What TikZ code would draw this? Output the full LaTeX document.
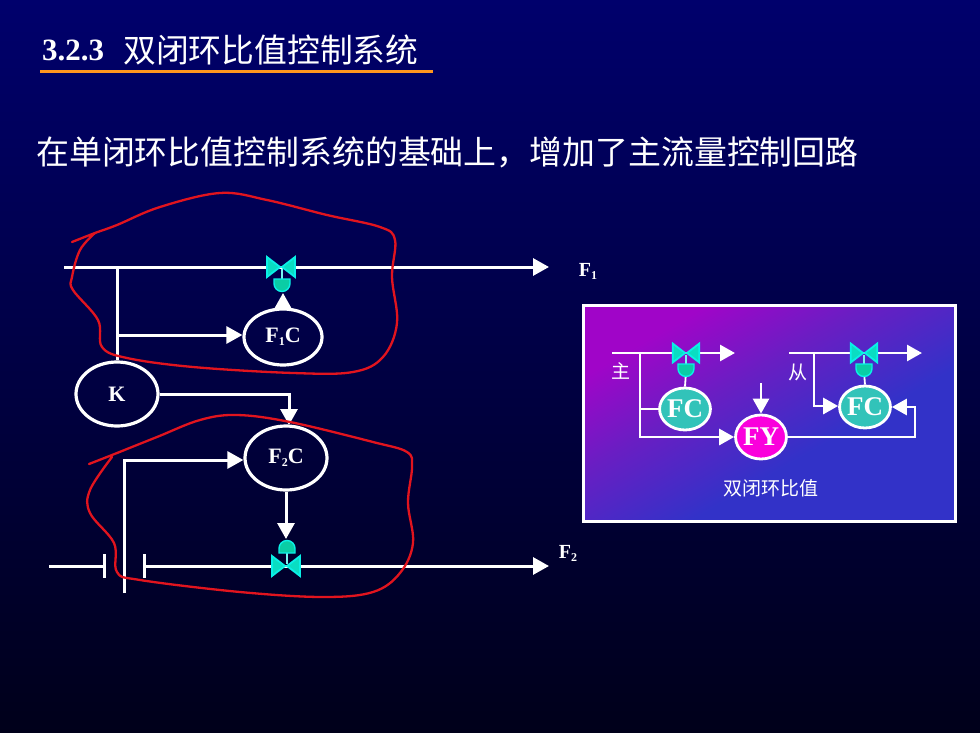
\documentclass[tikz,border=0pt]{standalone}
\usepackage{fontspec}
\setmainfont{Liberation Serif}
\newfontfamily\cjk{Noto Sans CJK SC}
\usetikzlibrary{arrows.meta,shapes.geometric}
\definecolor{bgtop}{RGB}{0,0,108}
\definecolor{bgmid}{RGB}{0,0,84}
\definecolor{bgbot}{RGB}{0,0,26}
\definecolor{redline}{RGB}{225,20,30}
\definecolor{orangeline}{RGB}{255,150,30}
\definecolor{cyanv}{RGB}{10,240,230}
\definecolor{domec}{RGB}{10,205,165}
\definecolor{tealc}{RGB}{50,195,185}
\definecolor{magc}{RGB}{250,0,220}
\definecolor{pa}{RGB}{160,5,200}
\definecolor{pb}{RGB}{105,30,195}
\definecolor{pc}{RGB}{50,50,200}
\pgfdeclarehorizontalshading{panelshade}{100bp}{color(0bp)=(pa); color(27bp)=(pa); color(42bp)=(pb); color(60bp)=(pc); color(100bp)=(pc)}
\newcommand{\subs}[1]{\raisebox{-3pt}{\fontsize{12}{12}\selectfont #1}}
\tikzset{
  x=1pt,y=-1pt,
  flow/.style={draw=white,line width=3pt,line join=miter},
  flowa/.style={flow,-{Triangle[length=16pt,width=17pt,fill=white]}},
  flows/.style={draw=white,line width=2.8pt},
  flowsa/.style={flows,-{Triangle[length=15pt,width=16pt,fill=white]}},
  ctrl/.style={ellipse,draw=white,line width=3.2pt,inner sep=0pt,fill=none,text=white,font=\bfseries\fontsize{22}{22}\selectfont},
  small/.style={ellipse,draw=white,line width=2.8pt,inner sep=0pt,text=white,font=\bfseries\fontsize{27}{27}\selectfont},
  lab/.style={text=white,inner sep=0pt,font=\bfseries\fontsize{20}{20}\selectfont},
  cn/.style={text=white,inner sep=0pt,font=\cjk\fontsize{19}{19}\selectfont},
  loopline/.style={draw=redline,line width=2.3pt,line cap=round,line join=round},
  bow/.style={fill=domec!55!cyanv,draw=cyanv,line width=1.8pt,line join=miter},
  stem/.style={draw=white!45!cyanv,line width=2pt},
  valve/.pic={
    \filldraw[bow] (-14,-10) -- (-1,0) -- (-14,10) -- cycle;
    \filldraw[bow] (14,-10) -- (1,0) -- (14,10) -- cycle;
  },
  dome/.pic={
    \draw[cyanv,line width=1.4pt,fill=domec] (-8,0) -- (8,0) -- (8,4.5) arc[start angle=0,end angle=180,radius=8] -- cycle;
  }
}
\begin{document}
\begin{tikzpicture}
\useasboundingbox (0,0) rectangle (980,733);
\shade[top color=bgtop,middle color=bgmid,bottom color=bgbot] (0,0) rectangle (980,733);

% heading
\node[anchor=west,text=white,inner sep=0pt,font=\bfseries\fontsize{31}{31}\selectfont] (num) at (42,50) {3.2.3};
\node[anchor=west,text=white,inner sep=0pt,font=\cjk\fontsize{32.8}{33}\selectfont] (title) at (123,50) {双闭环比值控制系统};
\coordinate (ulA) at (40,71.5);
\coordinate (ulB) at (433,71.5);
\draw[orangeline,line width=3pt] (ulA) -- (ulB);
\node[anchor=west,text=white,inner sep=0pt,font=\cjk\fontsize{32.9}{33}\selectfont] (sub) at (36,152) {在单闭环比值控制系统的基础上，增加了主流量控制回路};

% main diagram upper
\node[ctrl,minimum width=78pt,minimum height=56pt] (f1c) at (283,337) {F\subs{1}C};
\node[ctrl,minimum width=82pt,minimum height=64pt] (k) at (117,394) {K};
\node[ctrl,minimum width=82pt,minimum height=64pt] (f2c) at (286,458) {F\subs{2}C};
\coordinate (f1s) at (64,267);
\coordinate (f1e) at (549,267);
\coordinate (f1j) at (117,267);
\coordinate (f1b) at (117,335);
\coordinate (f1v) at (281,267);
\coordinate (f1d) at (283,293);
\draw[flowa] (f1s) -- (f1e);
\draw[flow] (f1j) -- (k.north);
\draw[flowa] (f1b) -- (f1c.west |- f1b);
\draw[flowa] (f1c.north) -- (f1d);
\draw[stem] (282,269) -- (282,279);
\path (f1v) pic {valve};
\path (282,279) pic[yscale=1] {dome};
\draw[flowa] (k.east) -- (289,394) -- (289,425);

\node[lab] (f1l) at (588,271) {F\subs{1}};

% main diagram lower
\coordinate (f2p) at (124,593);
\coordinate (f2a) at (124,460);
\draw[flowa] (f2p) -- (f2a) -- (f2c.west |- f2a);
\coordinate (f2d) at (286,539);
\draw[flowa] (f2c.south) -- (f2d);
\coordinate (t1) at (104,566);
\coordinate (t2) at (144,566);
\coordinate (f2s) at (49,566);
\coordinate (f2e) at (549,566);
\draw[flow] (f2s) -- (t1);
\draw[flowa] (t2) -- (f2e);
\draw[flow] (104,554) -- (104,578);
\draw[flow] (144,554) -- (144,578);
\coordinate (f2v) at (286,566);
\draw[stem] (287,553) -- (287,564);
\path (f2v) pic {valve};
\path (287,553) pic[yscale=-1] {dome};
\node[lab] (f2l) at (568,553) {F\subs{2}};

% panel
\draw[white,line width=3pt,shading=panelshade,shading angle=-60] (583,305) rectangle (955,521);
\node[small,fill=tealc,minimum width=50pt,minimum height=42pt] (fc1) at (685,409) {FC};
\node[small,fill=magc,minimum width=50pt,minimum height=44pt] (fy) at (761,437) {FY};
\node[small,fill=tealc,minimum width=50pt,minimum height=42pt] (fc2) at (865,407) {FC};
\coordinate (a1) at (612,353);
\coordinate (a2) at (735,353);
\coordinate (a3) at (640,353);
\coordinate (a4) at (640,437);
\coordinate (a5) at (640,409);
\draw[flowsa] (a1) -- (a2);
\draw[flowsa] (a3) -- (a4) -- (fy.west);
\draw[flows] (a5) -- (fc1.west);
\coordinate (b1) at (789,353);
\coordinate (b2) at (922,353);
\coordinate (b3) at (814,353);
\coordinate (b4) at (814,406);
\draw[flowsa] (b1) -- (b2);
\draw[flowsa] (b3) -- (b4) -- (fc2.west |- b4);
\coordinate (c1) at (915,437);
\coordinate (c2) at (915,407);
\draw[flowsa] (fy.east) -- (c1) -- (c2) -- (fc2.east);
\coordinate (d1) at (761,383);
\draw[flowsa] (d1) -- (fy.north);
\draw[white,line width=1.8pt] (686,372) -- (fc1.north);
\draw[white,line width=1.8pt] (864,372) -- (fc2.north);
\draw[stem] (686,355) -- (686,364);
\draw[stem] (864,355) -- (864,364);
\path (686,353) pic[scale=.95] {valve};
\path (864,353) pic[scale=.95] {valve};
\path (686,364) pic {dome};
\path (864,364) pic {dome};
\node[cn] (zhu) at (621,371) {主};
\node[cn] (cong) at (798,372) {从};
\node[cn] (cap) at (771,488) {双闭环比值};

% red loops
\draw[loopline] plot[smooth,tension=.6] coordinates {(72,242) (95,233) (117,225) (160,207) (220,193) (267,200) (327,215) (380,227) (395,240) (392,277) (397,323) (383,357) (353,372) (293,373) (193,367) (127,358) (102,347) (98,320) (73,290) (72,277) (80,250) (95,233)};
\draw[loopline] plot[smooth,tension=.6] coordinates {(89,464) (112,455) (157,437) (200,420) (237,415) (290,422) (373,442) (407,452) (412,467) (408,503) (413,543) (400,573) (373,592) (323,597) (240,592) (140,580) (117,572) (114,543) (90,513) (90,490) (112,457)};
\end{tikzpicture}
\end{document}
